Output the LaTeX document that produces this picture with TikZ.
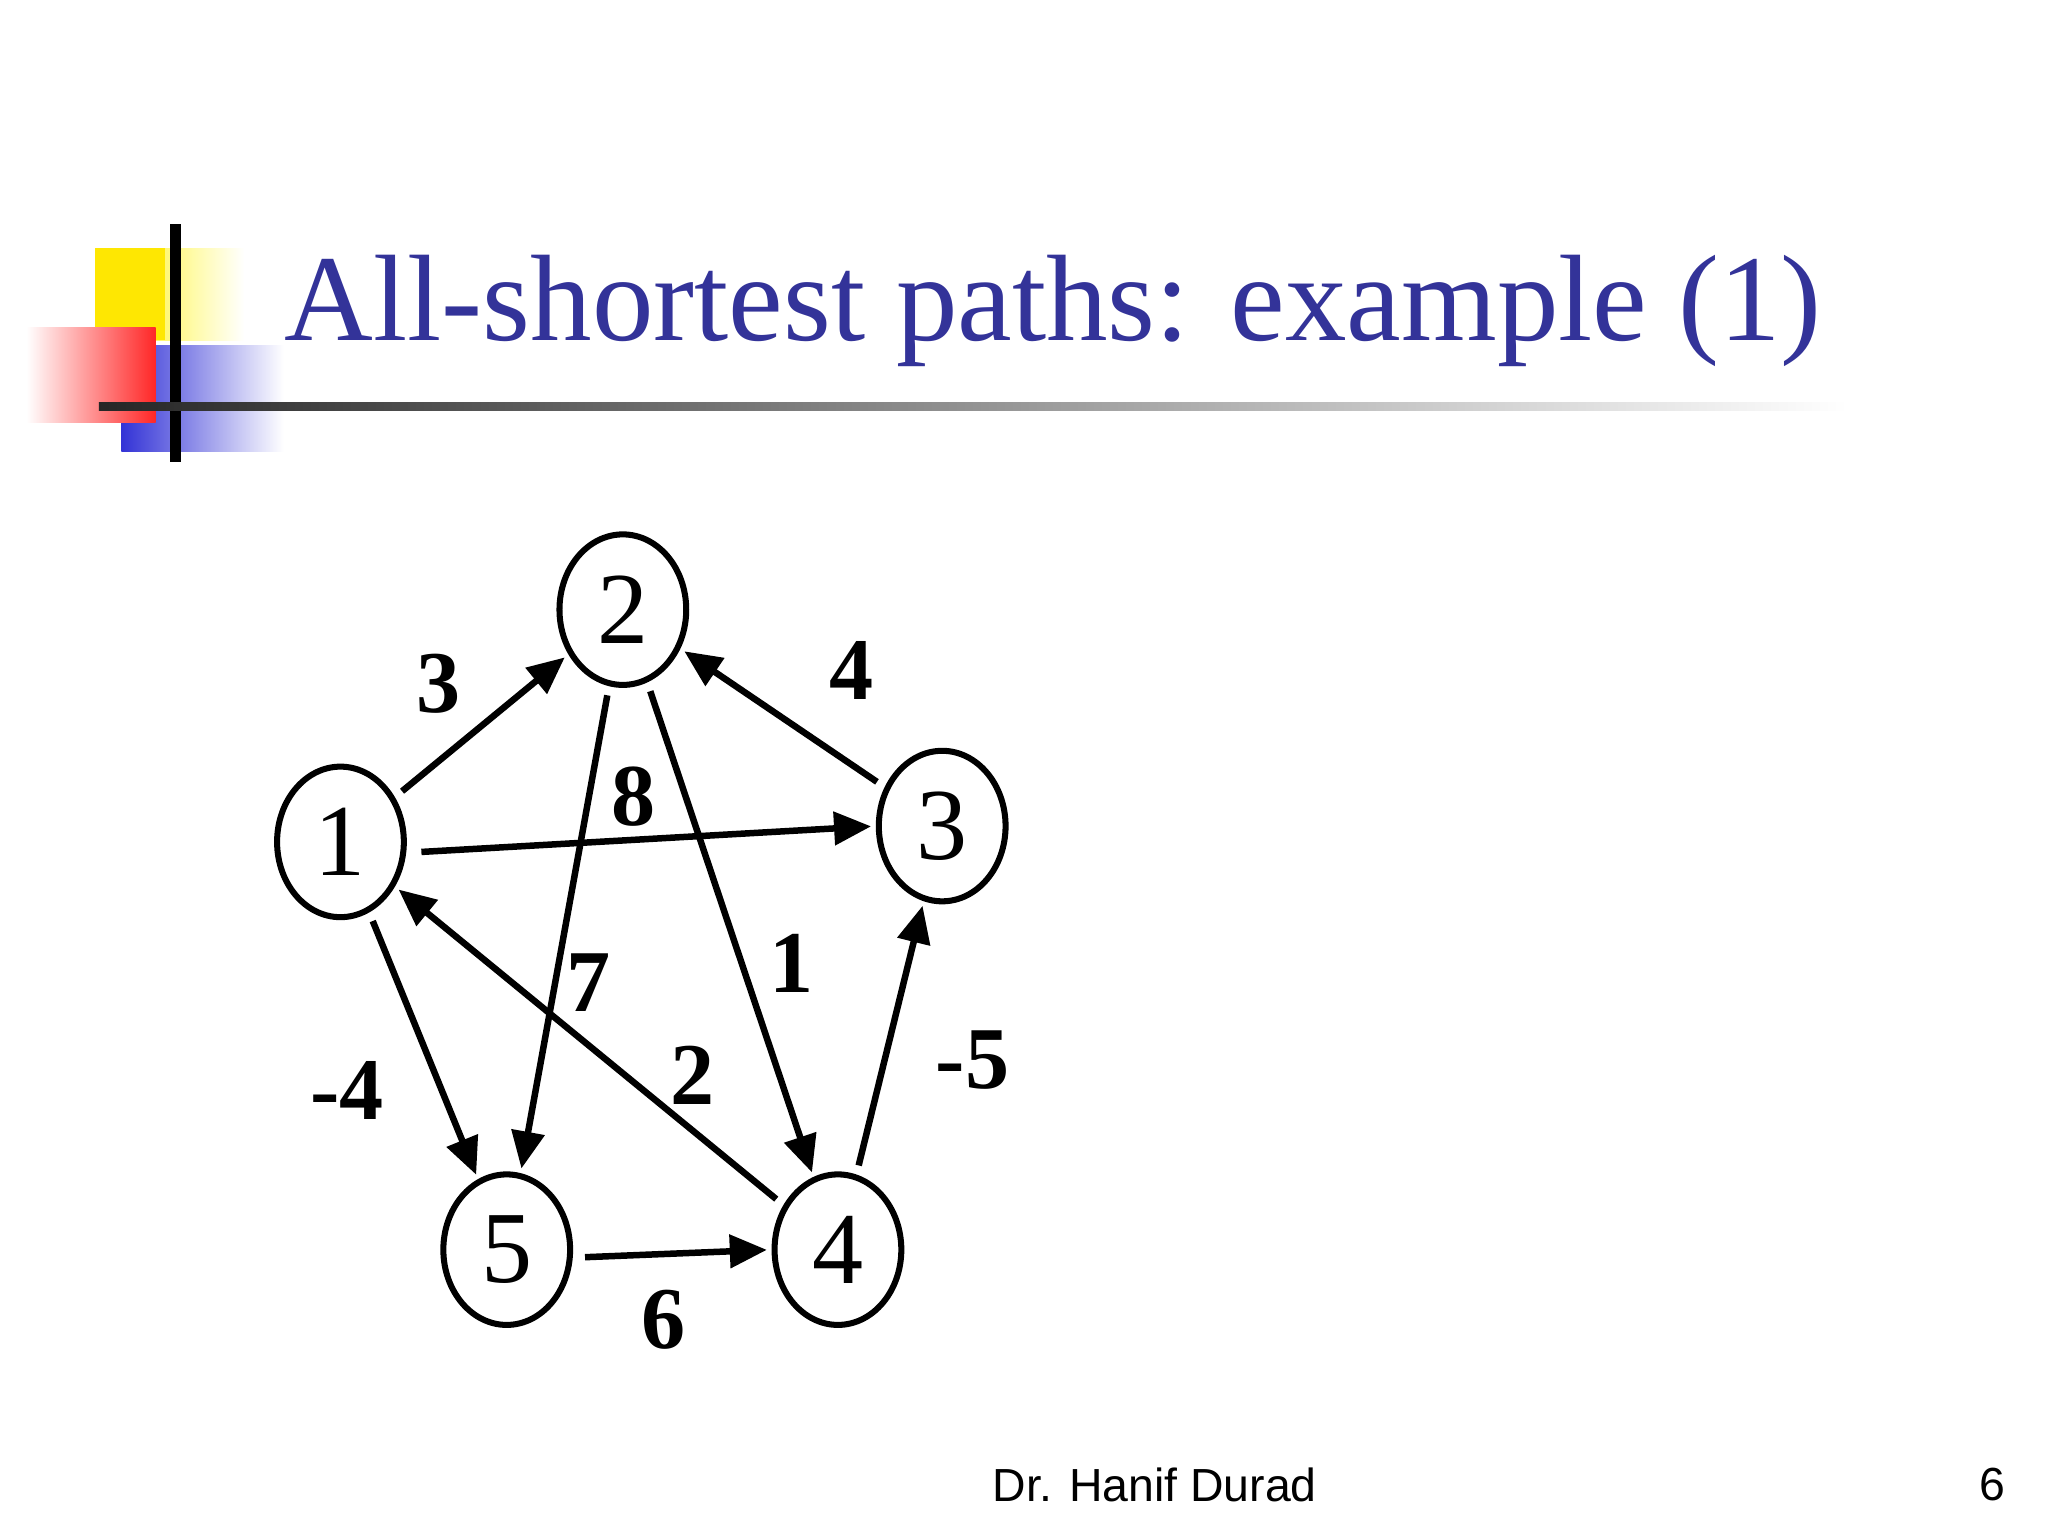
\documentclass[tikz,border=0pt]{standalone}
\usepackage{fontspec}
\setmainfont{Liberation Serif}
\setsansfont{Liberation Sans}
\usetikzlibrary{shapes.geometric,arrows.meta}
\definecolor{titleblue}{RGB}{51,51,153}
\begin{document}
\begin{tikzpicture}[x=0.01cm,y=-0.01cm,
  vtx/.style={ellipse,draw,line width=1.3pt,minimum width=0.96cm,minimum height=1.14cm,inner sep=0pt,font=\fontsize{22}{22}\selectfont},
  edge/.style={line width=1.4pt,-{Triangle[length=8pt,width=7pt]},shorten >=1pt,shorten <=2pt},
  wlab/.style={font=\fontsize{19}{19}\selectfont\bfseries}]
\useasboundingbox (0,0) rectangle (1552,1164);
\fill[white] (0,0) rectangle (1552,1164);
% decoration
\shade[left color=yellow!90!orange,right color=white] (72,188) rectangle (185,258);
\fill[yellow!90!orange] (72,188) rectangle (125,258);
\shade[left color=blue!80!black!80,right color=white] (92,262) rectangle (215,342);
\shade[left color=white,right color=red!85] (20,248) rectangle (118,320);
\draw[line width=2.5pt] (133,170) -- (133,350);
\shade[left color=black!85,right color=white] (75,305) rectangle (1400,311);
\node[anchor=base west,text=titleblue,font=\fontsize{26.5}{26.5}\selectfont,inner sep=0] (title) at (215,258) {All-shortest paths: example (1)};
% graph
\node[vtx] (n1) at (258,638) {1};
\node[vtx] (n2) at (472,462) {2};
\node[vtx] (n3) at (714,626) {3};
\node[vtx] (n4) at (635,947) {4};
\node[vtx] (n5) at (384,947) {5};
\draw[edge] (n1) -- (n2);
\path (n1.east) ++(4,8) coordinate (a1);
\draw[edge] (a1) -- (n3.west);
\draw[edge] (n1) -- (n5);
\draw[edge] (n2) -- (n5);
\draw[edge] (n2) -- (n4);
\draw[edge] (n3) -- (n2);
\draw[edge] (n4) -- (n3);
\draw[edge] (n4) -- (n1);
\path (n5.east) ++(2,6) coordinate (a5);
\draw[edge] (a5) -- (n4.west);
\node[wlab] (w3) at (332,518) {3};
\node[wlab] (w4) at (645,508) {4};
\node[wlab] (w8) at (480,604) {8};
\node[wlab] (w7) at (446,745) {7};
\node[wlab] (w1) at (600,730) {1};
\node[wlab] (w2) at (525,815) {2};
\node[wlab] (wm5) at (737,803) {-5};
\node[wlab] (wm4) at (263,826) {-4};
\node[wlab] (w6) at (503,1000) {6};
\node[font=\sffamily\fontsize{10}{10}\selectfont] (foot) at (875,1125) {Dr. Hanif Durad};
\node[font=\sffamily\fontsize{10}{10}\selectfont] (page) at (1510,1125) {6};
\end{tikzpicture}
\end{document}
